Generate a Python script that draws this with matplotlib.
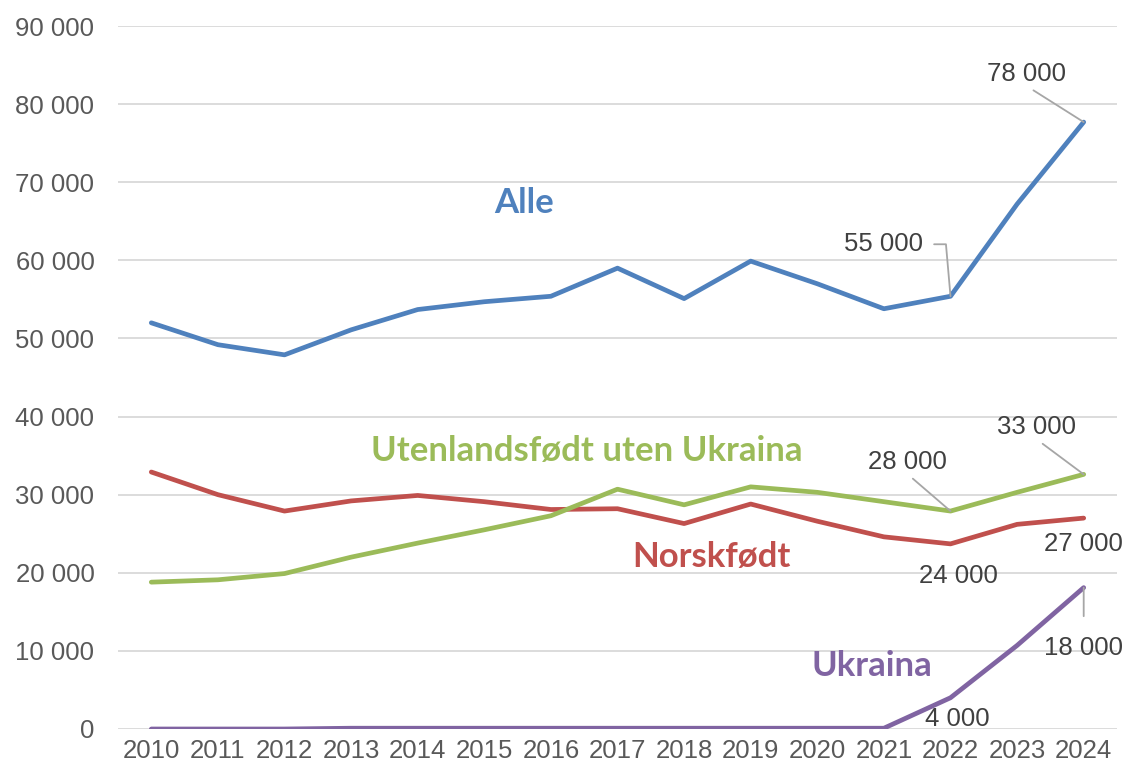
import matplotlib
matplotlib.use("Agg")
import matplotlib.pyplot as plt
from matplotlib.ticker import FuncFormatter, MultipleLocator

years = list(range(2010, 2025))
alle = [52000, 49200, 47900, 51100, 53700, 54700, 55400, 59000, 55100, 59900,
        57000, 53800, 55400, 67200, 77700]
norskfodt = [32900, 30000, 27900, 29200, 29900, 29100, 28100, 28200, 26300, 28800,
             26600, 24600, 23700, 26200, 27000]
utenlands = [18800, 19100, 19900, 22000, 23800, 25500, 27300, 30700, 28700, 31000,
             30300, 29100, 27900, 30300, 32600]
ukraina = [0, 0, 0, 100, 100, 100, 100, 100, 100, 100, 100, 100, 4000, 10700, 18100]

series = [
    ("Alle", alle, "#4f81bd"),
    ("Norskfødt", norskfodt, "#c0504d"),
    ("Utenlandsfødt uten Ukraina", utenlands, "#9bbb59"),
    ("Ukraina", ukraina, "#8064a2"),
]

plt.rcParams['font.family'] = ['Liberation Sans', 'DejaVu Sans']

fig = plt.figure(figsize=(11.43, 7.75), dpi=100)
ax = fig.add_axes([118 / 1143, 46 / 775, 999 / 1143, 703 / 775])

x = list(range(len(years)))
for name, vals, col in series:
    ax.plot(x, vals, color=col, linewidth=3.4, solid_joinstyle='round',
            solid_capstyle='round', zorder=3)

ax.set_xlim(-0.5, len(years) - 0.5)
ax.set_ylim(0, 90000)
ax.yaxis.set_major_locator(MultipleLocator(10000))
ax.yaxis.set_major_formatter(FuncFormatter(lambda v, p: f"{int(v):,}".replace(",", " ")))
ax.set_xticks(x)
ax.set_xticklabels([str(y) for y in years])
ax.grid(axis='y', color='#d9d9d9', linewidth=1.3, zorder=0)
for s in ax.spines.values():
    s.set_visible(False)
ax.tick_params(axis='both', length=0, labelsize=18.5, colors='#595959')
ax.tick_params(axis='y', pad=17)
ax.tick_params(axis='x', pad=7)

# series labels
lab_font = ['Lato', 'DejaVu Sans']
lab_size = 25
ax.text(0.406, 0.748, "Alle", transform=ax.transAxes, ha='center', va='center',
        fontsize=lab_size, fontweight='bold', color="#4f81bd", family=lab_font)
ax.text(0.469, 0.395, "Utenlandsfødt uten Ukraina", transform=ax.transAxes, ha='center',
        va='center', fontsize=lab_size, fontweight='bold', color="#9bbb59", family=lab_font)
ax.text(0.594, 0.245, "Norskfødt", transform=ax.transAxes, ha='center', va='center',
        fontsize=lab_size, fontweight='bold', color="#c0504d", family=lab_font)
ax.text(0.755, 0.089, "Ukraina", transform=ax.transAxes, ha='center', va='center',
        fontsize=lab_size, fontweight='bold', color="#8064a2", family=lab_font)

# data labels
lead = dict(arrowstyle='-', color='#a6a6a6', lw=1.3, shrinkA=2, shrinkB=0)
lbl = dict(textcoords='offset pixels', ha='center', va='center', fontsize=18.5,
           color='#404040', zorder=4)

def fmt(v):
    return f"{int(round(v, -3)):,}".replace(",", " ")

ax.annotate(fmt(alle[14]), (14, alle[14]), xytext=(-57, 48),
            arrowprops=dict(lead, relpos=(0.5, 0)), **lbl)
ax.annotate(fmt(alle[12]), (12, alle[12]), xytext=(-67, 52),
            arrowprops=dict(lead, relpos=(1.0, 0.5), shrinkA=6,
                            connectionstyle="angle,angleA=0,angleB=95,rad=0"), **lbl)
ax.annotate(fmt(utenlands[12]), (12, utenlands[12]), xytext=(-43, 49),
            arrowprops=dict(lead, relpos=(0.5, 0)), **lbl)
ax.annotate(fmt(utenlands[14]), (14, utenlands[14]), xytext=(-47, 47),
            arrowprops=dict(lead, relpos=(0.5, 0)), **lbl)
ax.annotate(fmt(norskfodt[14]), (14, norskfodt[14]), xytext=(0, -26), **lbl)
ax.annotate(fmt(norskfodt[12]), (12, norskfodt[12]), xytext=(8, -32), **lbl)
ax.annotate(fmt(ukraina[14]), (14, ukraina[14]), xytext=(0, -60),
            arrowprops=dict(lead, relpos=(0.5, 1.0), shrinkA=12), **lbl)
ax.annotate(fmt(ukraina[12]), (12, ukraina[12]), xytext=(7, -21), **lbl)

fig.savefig("out.png", dpi=100)
